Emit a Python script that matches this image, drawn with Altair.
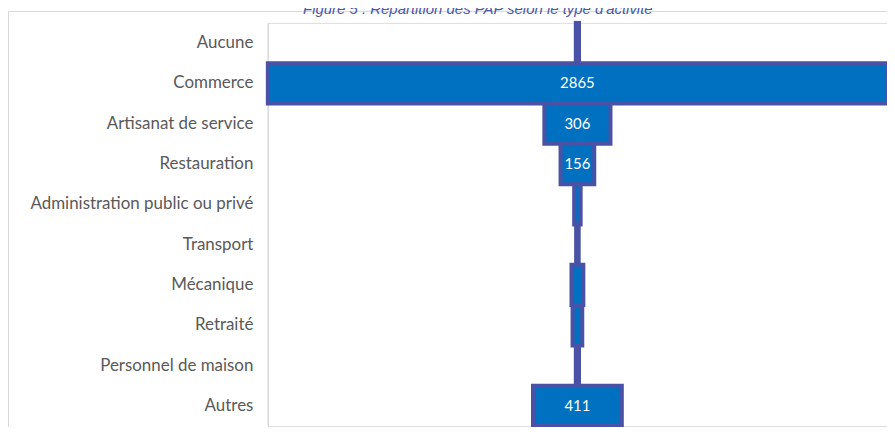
import altair as alt
import pandas as pd

categories = ["Aucune", "Commerce", "Artisanat de service", "Restauration",
              "Administration public ou privé", "Transport", "Mécanique",
              "Retraité", "Personnel de maison", "Autres"]
values = [15, 2865, 306, 156, 30, 12, 55, 45, 15, 411]
title_text = "Figure 5 : Répartition des PAP selon le type d'activité"

df = pd.DataFrame({"cat": categories, "val": values})
df["lo"] = -df["val"] / 2
df["hi"] = df["val"] / 2
df["label"] = df["val"].astype(str)

half = 1432.5
xs = alt.Scale(domain=[-half, half], nice=False, zero=False)
ys = alt.Scale(domain=categories, paddingInner=0, paddingOuter=0)

base = alt.Chart(df)

bars = base.mark_bar(fill="#0070C0", stroke="#4A52A6", strokeWidth=4,
                     cornerRadius=0).encode(
    y=alt.Y("cat:N", scale=ys, sort=categories,
            axis=alt.Axis(title=None, ticks=False, domain=True,
                          domainColor="#D9D9D9", domainWidth=1.5,
                          labelFont="Lato", labelFontSize=17,
                          labelColor="#595959", labelPadding=15,
                          labelLimit=400)),
    x=alt.X("lo:Q", scale=xs, axis=None),
    x2="hi:Q",
)

labels = base.transform_filter("datum.val >= 100").mark_text(
    font="Lato", fontSize=15, color="white", baseline="middle", align="center"
).encode(
    y=alt.Y("cat:N", scale=ys, sort=categories),
    text="label:N",
)

title = alt.Chart(pd.DataFrame({"t": [title_text]})).mark_text(
    font="Arial", fontStyle="italic", fontSize=15, color="#4A58A8",
    align="center", baseline="alphabetic"
).encode(
    x=alt.value(211), y=alt.value(-9), text="t:N"
)

frame = alt.Chart(pd.DataFrame({"a": [0]})).mark_rect(
    fill="transparent", stroke="#D9D9D9", strokeWidth=1
).encode(
    x=alt.value(-260.5), x2=alt.value(624), y=alt.value(-11.5), y2=alt.value(410)
)

chart = alt.layer(frame, bars, labels, title).properties(
    width=622, height=405,
    padding={"left": 261, "top": 14, "right": 0, "bottom": 0},
    autosize=alt.AutoSizeParams(type="none"),
).configure_view(stroke=None).configure(background="white")

chart.save("out.html", embed_options={"renderer": "svg", "actions": False})
